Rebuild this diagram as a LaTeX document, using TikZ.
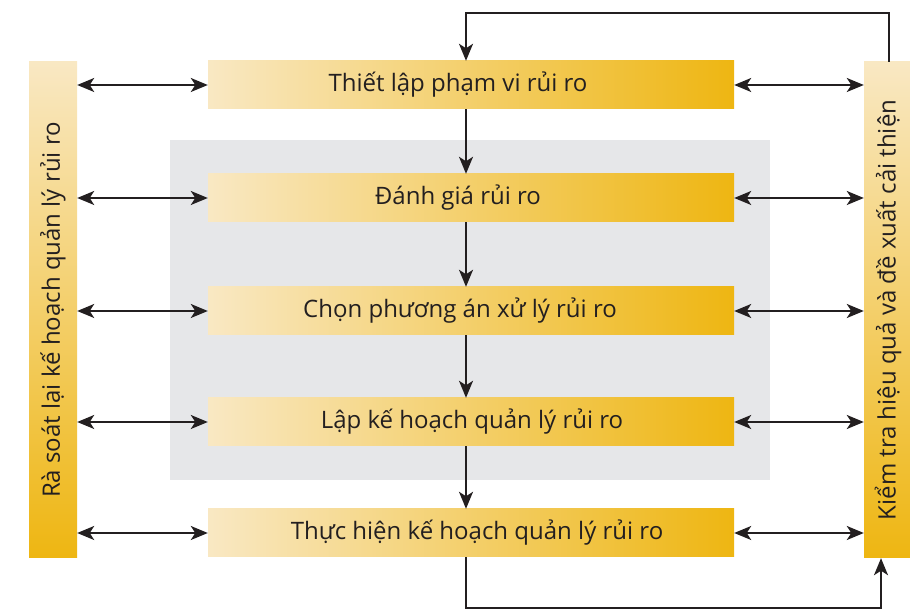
\documentclass[tikz,border=0pt]{standalone}
\usepackage{fontspec}
\setmainfont{Open Sans}
\usetikzlibrary{positioning,arrows.meta}
\definecolor{goldlight}{HTML}{F9E8C3}
\definecolor{golddark}{HTML}{EEB612}
\definecolor{panelgray}{HTML}{E6E7E9}
\definecolor{ink}{HTML}{231F20}

\begin{document}
\begin{tikzpicture}[x=1pt,y=1pt,
    every node/.style={font=\fontsize{24}{28}\selectfont,text=ink},
    phase/.style={minimum width=526pt,minimum height=48pt,inner sep=0pt,
      left color=goldlight,right color=golddark,execute at begin node={\hspace*{#1}}},
    phase/.default=0pt,
    sidebar/.style={rotate=90,minimum width=496pt,minimum height=48pt,inner sep=0pt,
      top color=goldlight,bottom color=golddark},
    link/.style={draw=ink,line width=2pt,-{Stealth[length=17pt,width=14pt,inset=4.5pt]}},
    twoway/.style={link,{Stealth[length=17pt,width=14pt,inset=4.5pt]}-{Stealth[length=17pt,width=14pt,inset=4.5pt]}}]
    \useasboundingbox (0,0) rectangle (910,610);
    % grey panel behind the middle steps
    \fill[panelgray] (170,130) rectangle (770,470);

    \node[phase=-26pt] (scope) at (471,525) {Thiết lập phạm vi rủi ro};
    \node[phase=-26pt] (assess) at (471,412) {Đánh giá rủi ro};
    \node[phase=-22pt] (treat) at (471,299) {Chọn phương án xử lý rủi ro};
    \node[phase=2pt] (plan) at (471,188) {Lập kế hoạch quản lý rủi ro};
    \node[phase=12pt] (implement) at (471,77) {Thực hiện kế hoạch quản lý rủi ro};

    \node[sidebar] (review) at (53,300) {Rà soát lại kế hoạch quản lý rủi ro};
    \node[sidebar] (monitor) at (888,300) {Kiểm tra hiệu quả và đề xuất cải thiện};

    % main chain
    \draw[link] ([xshift=-5pt]scope.south) -- ([xshift=-5pt]assess.north);
    \draw[link] ([xshift=-5pt]assess.south) -- ([xshift=-5pt]treat.north);
    \draw[link] ([xshift=-5pt]treat.south) -- ([xshift=-5pt]plan.north);
    \draw[link] ([xshift=-5pt]plan.south) -- ([xshift=-5pt]implement.north);

    % links to both side bars
    \foreach \s in {scope,assess,treat,plan,implement}{
      \draw[twoway] (review.south |- \s.west) -- (\s.west);
      \draw[twoway] (\s.east) -- (monitor.north |- \s.east);
    }

    % feedback loops
    \draw[link] ([xshift=1pt]monitor.east) -- ++(0,49) -| ([xshift=-5pt]scope.north);
    \draw[link] ([xshift=-5pt]implement.south) -- ++(0,-51) -| ([xshift=-7pt]monitor.west);
\end{tikzpicture}
\end{document}
